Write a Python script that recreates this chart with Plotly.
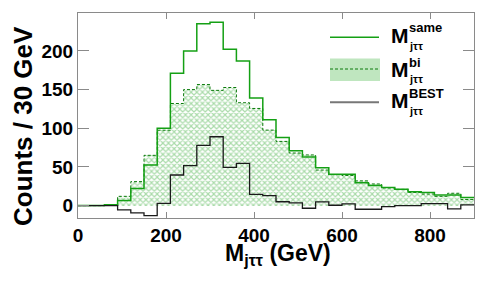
import numpy as np
import plotly.graph_objects as go

# ---- data (30 GeV bins from 0 to 900 GeV) ----
bin_width = 30
n_bins = 30
same = [0, 0, 1, 6.5, 22, 52.5, 100, 171, 200, 235, 237, 202, 187, 139, 111,
        88, 71, 63, 49, 40.5, 40.5, 29.7, 26, 23.3, 21.2, 18, 17, 13.8, 13.8, 10.4]
bi = [0, 0, 0.5, 12, 31, 65, 97.5, 132, 150, 156.5, 149, 152.7, 133, 125.6, 97.6,
      83, 68, 65.5, 46, 40, 39, 32, 28, 23, 21, 17, 15, 12, 16, 8]
best = [0, 0, 0, -5.5, -9.5, -13, 3, 39.6, 51.6, 78, 89, 49.5, 54.6, 14.6, 13,
        5, 3.5, -3.4, 4.8, 0.5, 2.2, -4.7, -4.7, -1.3, 0, 0, 2.6, 2.6, -4.3, 1]
x_ticks = [0, 200, 400, 600, 800]
y_ticks = [0, 50, 100, 150, 200]

edges = np.arange(n_bins + 1) * bin_width
centers = edges[:-1] + bin_width / 2


def step_y(vals):
    return list(vals) + [vals[-1]]


GREEN = "#14a014"
DKGREEN = "#0a7a0a"
FRAME = "#8a8a8a"

fig = go.Figure()

# hatched fill for "bi"
fig.add_trace(go.Bar(
    x=centers, y=bi, width=bin_width,
    marker=dict(color="white", line=dict(width=0),
                pattern=dict(shape="x", fgcolor="#55b855", bgcolor="white",
                             size=4, solidity=0.5)),
    showlegend=False, hoverinfo="skip"))
# dashed outline of "bi"
fig.add_trace(go.Scatter(
    x=edges, y=step_y(bi), mode="lines", line_shape="hv",
    line=dict(color=DKGREEN, width=1, dash="3px,2px"), showlegend=False))
# solid green "same"
fig.add_trace(go.Scatter(
    x=edges, y=step_y(same), mode="lines", line_shape="hv",
    line=dict(color=GREEN, width=1.5), showlegend=False))
# black "BEST"
fig.add_trace(go.Scatter(
    x=edges, y=step_y(best), mode="lines", line_shape="hv",
    line=dict(color="#1a1a1a", width=1.3), showlegend=False))

# ---- geometry helpers for custom legend / titles ----
L, R, T, B = 78, 11, 13, 63
W, H = 485, 281
pw, ph = W - L - R, H - T - B


def px(xp):
    return (xp - L) / pw


def py(yp):
    return (H - B - yp) / ph


shapes = []
annotations = []
# legend samples
shapes.append(dict(type="line", xref="paper", yref="paper",
                   x0=px(330), x1=px(379), y0=py(37.3), y1=py(37.3),
                   line=dict(color=GREEN, width=1.5)))
shapes.append(dict(type="rect", xref="paper", yref="paper",
                   x0=px(330), x1=px(380), y0=py(81), y1=py(58.5),
                   fillcolor="#bfe6bf", line=dict(width=0)))
shapes.append(dict(type="line", xref="paper", yref="paper",
                   x0=px(330), x1=px(380), y0=py(69), y1=py(69),
                   line=dict(color=DKGREEN, width=1, dash="3px,2px")))
shapes.append(dict(type="line", xref="paper", yref="paper",
                   x0=px(330), x1=px(379), y0=py(102.3), y1=py(102.3),
                   line=dict(color="#777777", width=2)))

rows = [(35.5, "same"), (69.5, "bi"), (100.5, "BEST")]
for yc, sup in rows:
    annotations.append(dict(text="<b>M</b>", xref="paper", yref="paper",
                            x=px(389), y=py(yc), xanchor="left", yanchor="middle",
                            showarrow=False,
                            font=dict(family="Liberation Sans", size=21, color="black")))
    annotations.append(dict(text="<b>%s</b>" % sup, xref="paper", yref="paper",
                            x=px(406.5), y=py(yc - 7.5), xanchor="left", yanchor="middle",
                            showarrow=False,
                            font=dict(family="Liberation Sans", size=13, color="black")))
    annotations.append(dict(text="<b>jττ</b>", xref="paper", yref="paper",
                            x=px(406.5), y=py(yc + 10), xanchor="left", yanchor="middle",
                            showarrow=False,
                            font=dict(family="Liberation Sans", size=11, color="black")))

# axis titles
annotations.append(dict(text="<b>Counts / 30 GeV</b>", xref="paper", yref="paper",
                        x=px(23), y=py(126), xanchor="center", yanchor="middle",
                        textangle=-90, showarrow=False,
                        font=dict(family="Liberation Sans", size=26, color="black")))
annotations.append(dict(text="<b>M<sub>jττ</sub> (GeV)</b>", xref="paper", yref="paper",
                        x=px(278), y=py(254), xanchor="center", yanchor="middle",
                        showarrow=False,
                        font=dict(family="Liberation Sans", size=23, color="black")))

fig.update_layout(
    width=W, height=H,
    margin=dict(l=L, r=R, t=T, b=B, pad=0),
    paper_bgcolor="white", plot_bgcolor="white",
    bargap=0, showlegend=False,
    shapes=shapes, annotations=annotations,
    xaxis=dict(range=[0, 900], tickvals=x_ticks, ticktext=[str(v) for v in x_ticks],
               ticks="inside", ticklen=6, tickcolor=FRAME, tickwidth=1,
               showline=True, linecolor=FRAME, linewidth=1, mirror="ticks",
               showgrid=False, zeroline=False, automargin=False,
               tickfont=dict(family="Liberation Sans", size=19, color="black", weight="bold")),
    yaxis=dict(range=[-16, 249], tickvals=y_ticks, ticktext=[str(v) for v in y_ticks],
               ticks="inside", ticklen=11, tickcolor=FRAME, tickwidth=1,
               showline=True, linecolor=FRAME, linewidth=1, mirror="ticks",
               showgrid=False, zeroline=False, automargin=False,
               tickfont=dict(family="Liberation Sans", size=19, color="black", weight="bold")),
)

fig.write_html("out.html", config={"displayModeBar": False},
               post_script="document.body.style.margin='0';")
